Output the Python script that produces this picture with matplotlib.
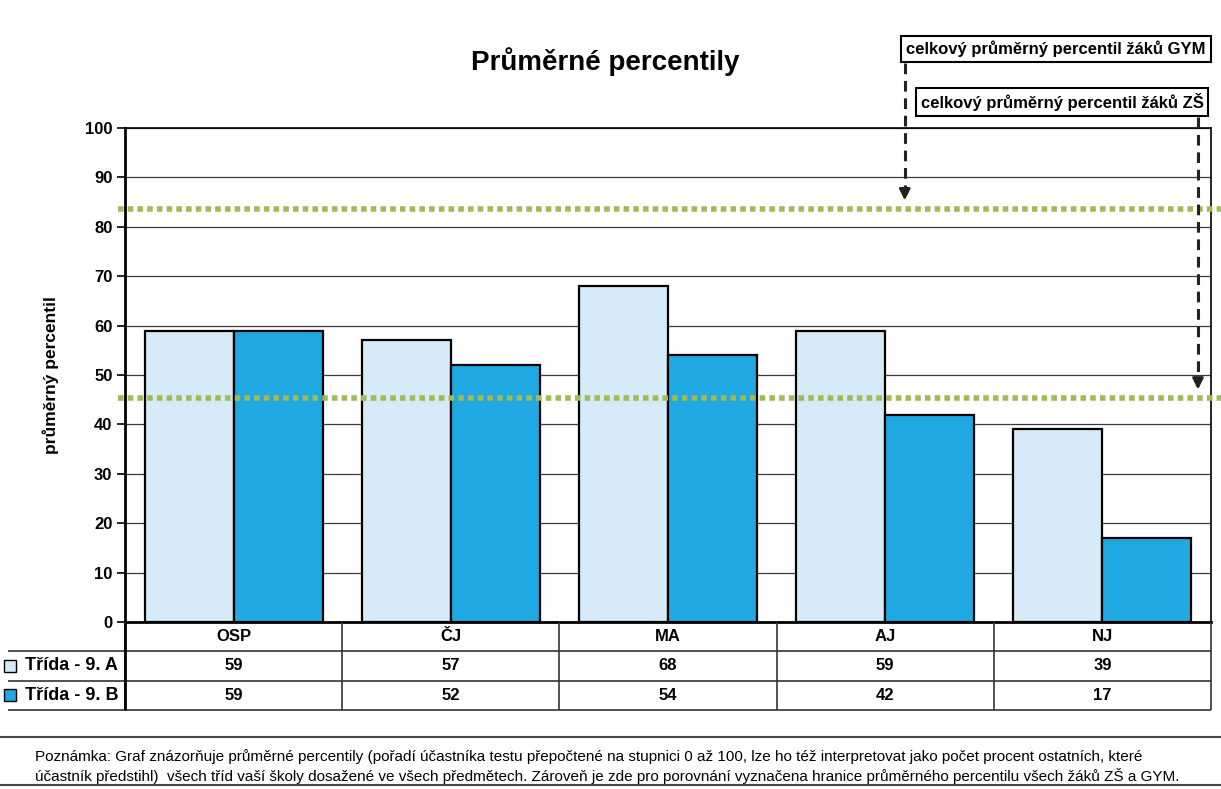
import matplotlib
matplotlib.use('Agg')
import matplotlib.pyplot as plt
import matplotlib.transforms as mtransforms
import numpy as np

plt.rcParams['font.family'] = ['Liberation Sans', 'DejaVu Sans']

# data
categories = ['OSP', 'ČJ', 'MA', 'AJ', 'NJ']
class_a = [59, 57, 68, 59, 39]
class_b = [59, 52, 54, 42, 17]
series_labels = ['Třída - 9. A', 'Třída - 9. B']
gym_avg = 83.6
zs_avg = 45.3
y_ticks = list(range(0, 101, 10))

title = 'Průměrné percentily'
ylabel = 'průměrný percentil'
gym_label = 'celkový průměrný percentil žáků GYM'
zs_label = 'celkový průměrný percentil žáků ZŠ'
note_lines = [
    'Poznámka: Graf znázorňuje průměrné percentily (pořadí účastníka testu přepočtené na stupnici 0 až 100, lze ho též interpretovat jako počet procent ostatních, které',
    'účastník předstihl)  všech tříd vaší školy dosažené ve všech předmětech. Zároveň je zde pro porovnání vyznačena hranice průměrného percentilu všech žáků ZŠ a GYM.',
]

col_a = '#d6ebf7'
col_b = '#20a8e2'
green = '#9fba57'
W, H = 1221, 789

fig = plt.figure(figsize=(W / 100, H / 100), dpi=100)
fig.patch.set_facecolor('white')

# main plot
ax = fig.add_axes([125 / W, 1 - 622 / H, 1086 / W, 494 / H])
x = np.arange(len(categories))
w = 0.41
ax.bar(x - w / 2, class_a, w, color=col_a, edgecolor='black', linewidth=1.6, zorder=3)
ax.bar(x + w / 2, class_b, w, color=col_b, edgecolor='black', linewidth=1.6, zorder=3)
ax.set_xlim(-0.5, len(categories) - 0.5)
ax.set_ylim(0, 100)
ax.set_yticks(y_ticks)
ax.set_xticks([])
ax.yaxis.grid(True, color='#3a3a3a', linewidth=0.9)
ax.set_axisbelow(True)
ax.tick_params(axis='y', length=6, width=1.2, labelsize=12, pad=3)
for lbl in ax.get_yticklabels():
    lbl.set_fontweight('bold')
for side in ['left', 'bottom']:
    ax.spines[side].set_linewidth(2)
for side in ['top', 'right']:
    ax.spines[side].set_linewidth(1.2)
ax.set_ylabel(ylabel, fontsize=12.5, fontweight='bold')
ax.yaxis.set_label_coords(-0.061, 0.5)

# average lines
for val in [gym_avg, zs_avg]:
    ax.axhline(val, xmin=-0.006, xmax=1.009, color=green, linewidth=4,
               dashes=(1, 0.75), clip_on=False, zorder=4)

# dashed arrows from the boxes
for ax_x, y_top, val in [(3.09, 113.2, gym_avg), (4.44, 102.2, zs_avg)]:
    ax.plot([ax_x, ax_x], [y_top, val + 4], color='#222222', linewidth=2.2,
            dashes=(3.5, 2.2), clip_on=False, zorder=5)
    ax.annotate('', xy=(ax_x, val + 1.2), xytext=(ax_x, val + 4.5),
                arrowprops=dict(arrowstyle='-|>', color='#222222', lw=2,
                                mutation_scale=16),
                annotation_clip=False, zorder=5)

box = dict(boxstyle='square,pad=0.3', fc='white', ec='black', lw=1.5)
fig.text(1056 / W, 1 - 49 / H, gym_label, ha='center', va='center',
         fontsize=12, fontweight='bold', bbox=box)
fig.text(1062 / W, 1 - 102 / H, zs_label, ha='center', va='center',
         fontsize=12, fontweight='bold', bbox=box)

fig.text(605 / W, 1 - 62 / H, title, ha='center', va='center',
         fontsize=20, fontweight='bold')

# data table under the plot
tax = fig.add_axes([125 / W, 1 - 710 / H, 1086 / W, 88 / H])
tax.set_xlim(-0.5, len(categories) - 0.5)
tax.set_ylim(3, 0)
tax.axis('off')
for i, c in enumerate(categories):
    tax.text(i, 0.5, c, ha='center', va='center', fontsize=12, fontweight='bold')
for r, vals in enumerate([class_a, class_b], start=1):
    for i, v in enumerate(vals):
        tax.text(i, r + 0.5, str(v), ha='center', va='center', fontsize=12,
                 fontweight='bold')
tax.hlines([1, 2, 3], xmin=-1.04, xmax=len(categories) - 0.5, color='#333333',
           linewidth=1.2, clip_on=False)
tax.vlines(np.arange(-0.5, len(categories)), 0, 3, color='#333333',
           linewidth=1.2, clip_on=False)
tax.vlines([-0.5], 0, 3, color='black', linewidth=2, clip_on=False)

marker_tr = mtransforms.offset_copy(tax.transData, fig=fig, x=-115, y=0, units='dots')
for r, (lab, col) in enumerate(zip(series_labels, [col_a, col_b]), start=1):
    tax.annotate(lab, xy=(-0.5, r + 0.5), xytext=(-5, 0), textcoords='offset points',
                 ha='right', va='center', fontsize=13, fontweight='bold',
                 annotation_clip=False)
    tax.plot([-0.5], [r + 0.5], marker='s', ms=8, mfc=col, mec='black', mew=1,
             transform=marker_tr, clip_on=False)

# note at the bottom
for yy in [737, 785]:
    fig.add_artist(plt.Line2D([0, 1], [1 - yy / H, 1 - yy / H], transform=fig.transFigure,
                              color='#444444', linewidth=1.5))
for k, line in enumerate(note_lines):
    fig.text(35 / W, 1 - (757 + 19 * k) / H, line, ha='left', va='center', fontsize=11)

fig.savefig('out.png', dpi=100)
